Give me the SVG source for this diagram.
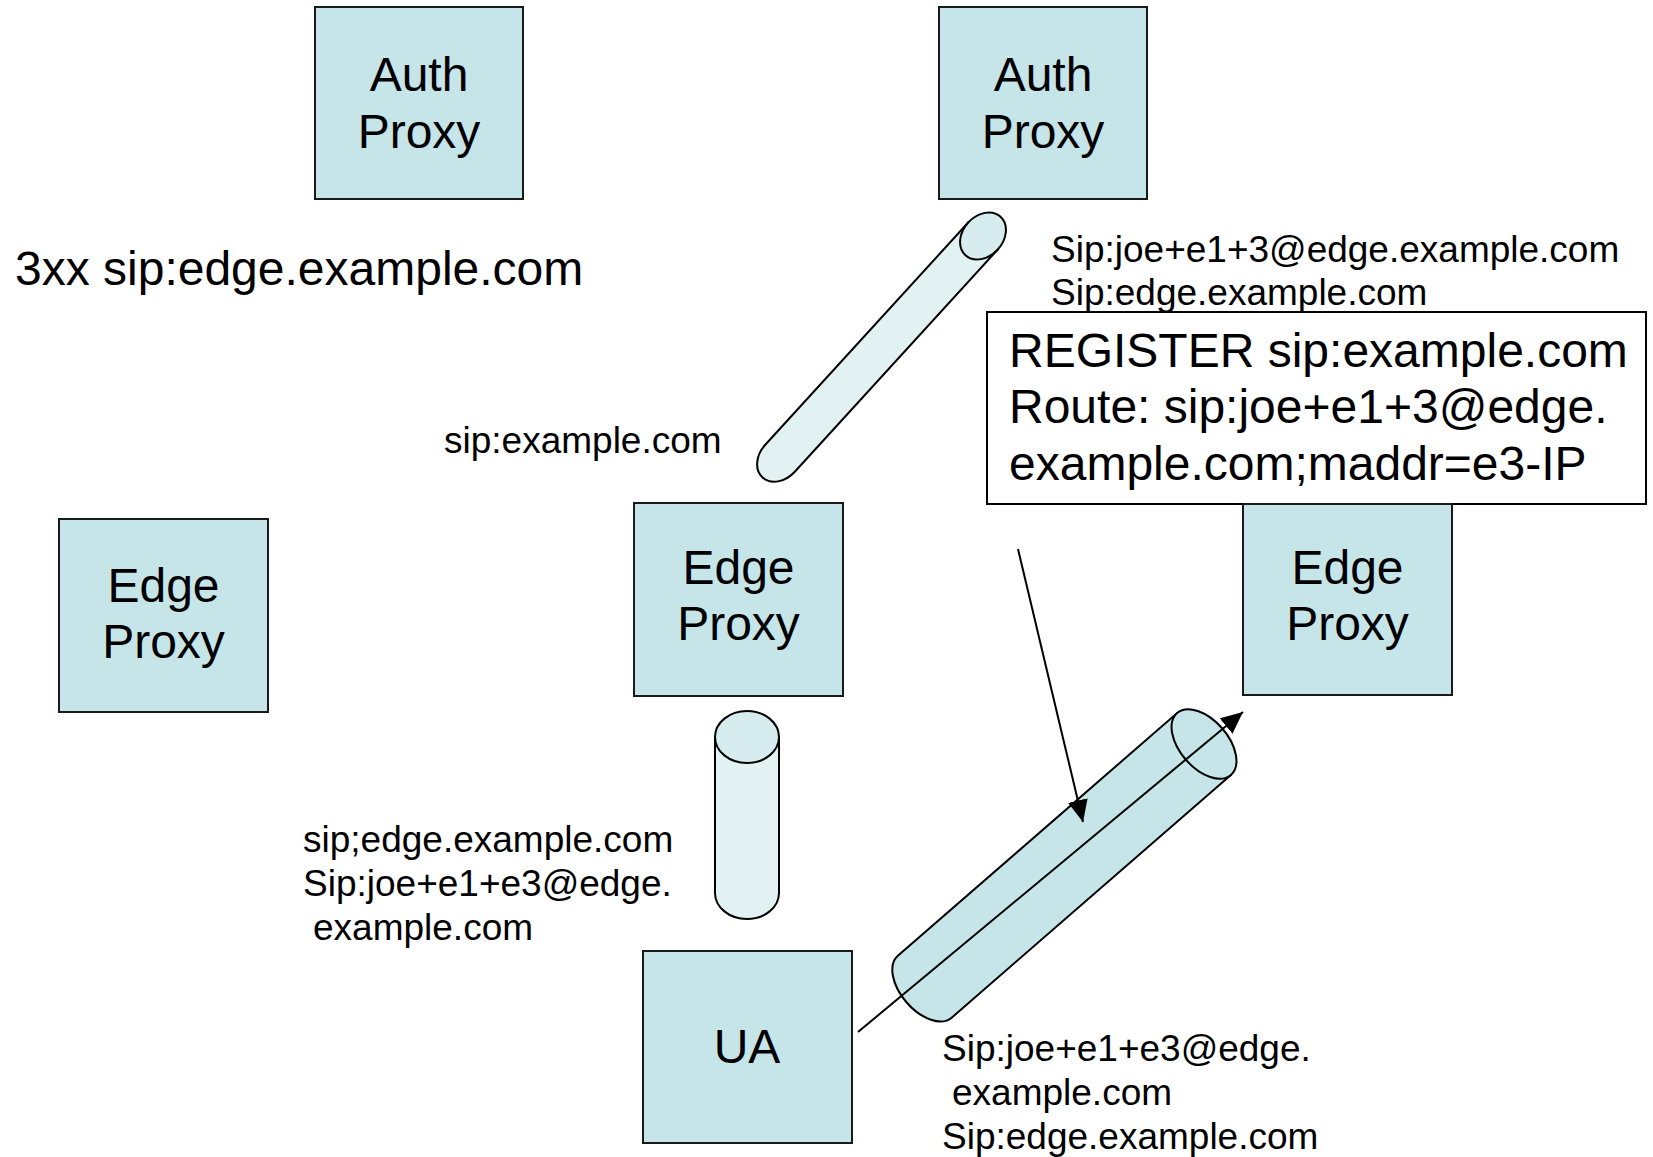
<svg xmlns="http://www.w3.org/2000/svg" width="1653" height="1157" viewBox="0 0 1653 1157">
<style>
text{font-family:"Liberation Sans",Arial,sans-serif;fill:#000}
.box{fill:#C6E5E9;stroke:#1a1a1a;stroke-width:2}
.big{font-size:48px}
.lbl{font-size:37px}
.mid{text-anchor:middle}
.tube{stroke:#000;stroke-width:2}
.conn{stroke:#000;stroke-width:2;fill:none}
</style>
<defs>
<marker id="ah" markerUnits="userSpaceOnUse" markerWidth="24" markerHeight="20" refX="22" refY="10" orient="auto">
<path d="M0,0 L22,10 L0,20 Z" fill="#000"/>
</marker>
</defs>
<rect width="1653" height="1157" fill="#fff"/>

<g id="label-3xx"><text class="big" x="15" y="285">3xx sip:edge.example.com</text></g>
<g id="label-top-right"><text class="lbl" x="1051" y="262">Sip:joe+e1+3@edge.example.com</text><text class="lbl" x="1051" y="305">Sip:edge.example.com</text></g>
<g id="register-box">
<rect x="987" y="312" width="659" height="192" fill="none" stroke="#000" stroke-width="2"/>
<text class="big" x="1009" y="367">REGISTER sip:example.com</text>
<text class="big" x="1009" y="423">Route: sip:joe+e1+3@edge.</text>
<text class="big" x="1009" y="480">example.com;maddr=e3-IP</text>
</g>

<g id="auth-proxy-1"><rect class="box" x="315" y="7" width="208" height="192"/><text class="big mid" x="419" y="91">Auth</text><text class="big mid" x="419" y="148">Proxy</text></g>
<g id="auth-proxy-2"><rect class="box" x="939" y="7" width="208" height="192"/><text class="big mid" x="1043" y="91">Auth</text><text class="big mid" x="1043" y="148">Proxy</text></g>
<g id="edge-proxy-left"><rect class="box" x="59" y="519" width="209" height="193"/><text class="big mid" x="163.5" y="602">Edge</text><text class="big mid" x="163.5" y="658">Proxy</text></g>
<g id="edge-proxy-mid"><rect class="box" x="634" y="503" width="209" height="193"/><text class="big mid" x="738.5" y="584">Edge</text><text class="big mid" x="738.5" y="640">Proxy</text></g>
<g id="edge-proxy-right"><rect class="box" x="1243" y="504" width="209" height="191"/><text class="big mid" x="1347.5" y="584">Edge</text><text class="big mid" x="1347.5" y="640">Proxy</text></g>
<g id="ua"><rect class="box" x="643" y="951" width="209" height="192"/><text class="big mid" x="747" y="1063">UA</text></g>

<g id="label-sip-example"><text class="lbl" x="444" y="453">sip:example.com</text></g>
<g id="label-left"><text class="lbl" x="303" y="852">sip;edge.example.com</text><text class="lbl" x="303" y="896">Sip:joe+e1+e3@edge.</text><text class="lbl" x="313" y="940">example.com</text></g>
<g id="label-bottom-right"><text class="lbl" x="942" y="1061">Sip:joe+e1+e3@edge.</text><text class="lbl" x="952" y="1105">example.com</text><text class="lbl" x="942" y="1149">Sip:edge.example.com</text></g>

<g id="tube-auth-edge" transform="translate(983,236) rotate(132.4)">
<path class="tube" fill="#E2F2F3" d="M0,-20 L301,-20 A26,20 0 0 1 301,20 L0,20 Z"/>
<ellipse class="tube" fill="#D6ECEF" cx="0" cy="0" rx="26" ry="20"/>
</g>
<g id="tube-edge-ua">
<path class="tube" fill="#E2F2F3" d="M715,737 L715,893 A32,26 0 0 0 779,893 L779,737 Z"/>
<ellipse class="tube" fill="#D6ECEF" cx="747" cy="737" rx="32" ry="26"/>
</g>
<g id="tube-ua-edge" transform="translate(1204,744) rotate(139)">
<path class="tube" fill="#C6E5E9" d="M0,-41 L370,-41 A24,41 0 0 1 370,41 L0,41 Z"/>
<ellipse class="tube" fill="#C6E5E9" cx="0" cy="0" rx="24" ry="41"/>
</g>

<g id="connectors">
<line class="conn" x1="858" y1="1032" x2="1243" y2="712" marker-end="url(#ah)"/>
<line class="conn" x1="1018" y1="549" x2="1083" y2="822" marker-end="url(#ah)"/>
</g>
</svg>
